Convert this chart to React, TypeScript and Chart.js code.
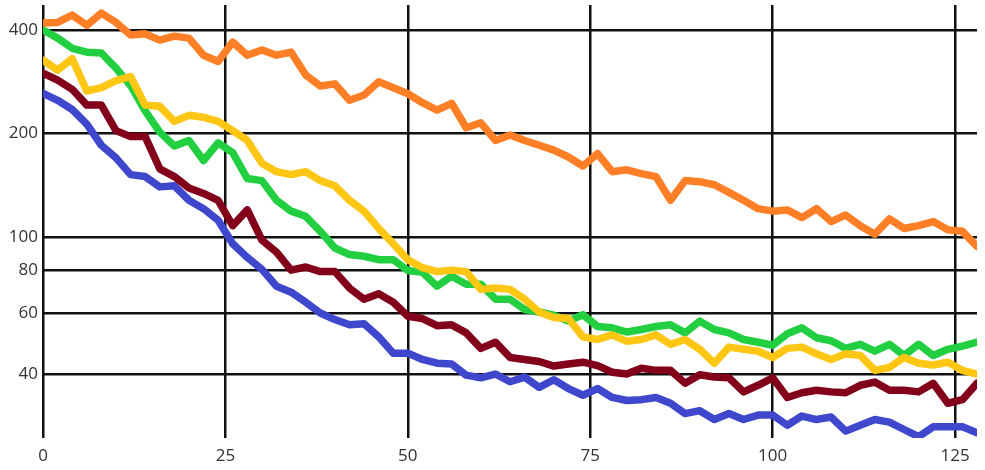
import React, { useEffect, useRef } from "react";
import { Chart, registerables } from "chart.js";

Chart.register(...registerables);

const X = [
  0, 2, 4, 6, 8, 10, 12, 14, 16, 18, 20, 22, 24, 26, 28, 30, 32, 34, 36, 38,
  40, 42, 44, 46, 48, 50, 52, 54, 56, 58, 60, 62, 64, 66, 68, 70, 72, 74, 76, 78,
  80, 82, 84, 86, 88, 90, 92, 94, 96, 98, 100, 102, 104, 106, 108, 110, 112, 114, 116, 118,
  120, 122, 124, 126, 128,
];

const orange = [
  419, 421, 442, 413, 448, 421, 387, 390, 374, 384, 379, 338, 324, 369, 338, 350, 338, 345, 296, 275,
  279, 250, 259, 283, 272, 261, 246, 234, 245, 208, 215, 191, 198, 191, 185, 179, 171, 161, 175, 155,
  157, 153, 150, 128, 146, 145, 142, 135, 128, 121, 119, 120, 114, 121, 111, 116, 108, 102, 113, 106,
  108, 111, 105, 104, 94,
];

const green = [
  400, 379, 354, 345, 343, 310, 276, 233, 202, 184, 191, 167, 188, 176, 148, 146, 128, 119, 115, 104,
  93, 89, 88, 86, 86, 80, 79, 72, 77, 73, 73, 66, 66, 61.6, 60.6, 59.3, 57, 59.5, 55, 54.5,
  53, 53.9, 55, 55.6, 52.7, 57, 53.9, 52.7, 50.4, 49.5, 48.5, 52.4, 54.5, 51, 50, 47.5, 48.8, 46.6, 48.8, 45.3,
  48.8, 45.3, 47.2, 48.2, 49.5,
];

const yellow = [
  327, 306, 330, 266, 272, 285, 293, 242, 240, 217, 226, 223, 217, 204, 191, 164, 155, 152, 155, 146,
  141, 128, 119, 106, 95.7, 86, 81.5, 79.4, 80.2, 79.4, 70.5, 71.1, 70.5, 66, 60.6, 58.4, 58, 51.3, 50.4, 52,
  49.8, 50.4, 52, 48.8, 50.4, 47.2, 43, 47.9, 47.2, 46.6, 44.7, 47.5, 47.9, 45.8, 44.1, 45.8, 45.3, 41, 41.8, 44.7,
  43, 42.5, 43.3, 41, 40,
];

const maroon = [
  300, 286, 269, 242, 242, 204, 196, 196, 158, 150, 139, 134, 128, 108, 120, 98, 90.5, 80.2, 81.9, 79.4,
  79.4, 71.1, 66, 68.5, 64.7, 58.9, 58, 55.3, 55.6, 52.7, 47.5, 49.5, 44.7, 44.1, 43.5, 42.2, 42.8, 43.3, 42.3, 40.5,
  40, 41.6, 41, 41, 37.6, 39.8, 39.2, 39, 35.5, 37.1, 39, 34.2, 35.3, 35.9, 35.5, 35.3, 37.1, 37.9, 35.9, 35.9,
  35.5, 37.6, 32.9, 33.7, 37.6,
];

const blue = [
  262, 250, 235, 213, 185, 170, 152, 150, 140, 141, 128, 121, 112, 95.7, 87.3, 80.6, 72, 69.2, 64.7, 60.2,
  57.6, 55.6, 56, 51.3, 46, 46, 44.1, 43, 42.8, 39.7, 39, 40, 38, 39.2, 36.6, 38.5, 36.3, 34.7, 36.3, 34.2,
  33.5, 33.7, 34.2, 32.9, 30.7, 31.3, 29.5, 30.7, 29.5, 30.4, 30.4, 28.4, 30.2, 29.5, 30, 27.3, 28.4, 29.5, 29, 27.6,
  26.3, 28.1, 28.1, 28.1, 27,
];

const yTicks = [40, 60, 80, 100, 200, 400];
const xTicks = [0, 25, 50, 75, 100, 125];

const toPoints = (vals: number[]) => vals.map((v, i) => ({ x: X[i], y: v }));

export default function App() {
  const ref = useRef<HTMLCanvasElement | null>(null);

  useEffect(() => {
    document.body.style.margin = "0";
    if (!ref.current) return;
    const mk = (label: string, vals: number[], color: string, order: number) => ({
      label,
      data: toPoints(vals),
      borderColor: color,
      backgroundColor: color,
      borderWidth: 7.5,
      pointRadius: 0,
      tension: 0,
      borderCapStyle: "round" as const,
      borderJoinStyle: "round" as const,
      order,
    });
    const chart = new Chart(ref.current, {
      type: "line",
      data: {
        datasets: [
          mk("orange", orange, "#FF7F27", 1),
          mk("yellow", yellow, "#FFC614", 2),
          mk("green", green, "#22CF40", 3),
          mk("maroon", maroon, "#82001A", 4),
          mk("blue", blue, "#3F48CC", 5),
        ],
      },
      options: {
        animation: false,
        responsive: true,
        maintainAspectRatio: false,
        layout: { padding: { top: 5, right: 8, left: 0, bottom: 0 } },
        plugins: { legend: { display: false }, tooltip: { enabled: false } },
        scales: {
          x: {
            type: "linear",
            min: 0,
            max: 128,
            afterBuildTicks: (s: any) => {
              s.ticks = xTicks.map((v) => ({ value: v }));
            },
            afterFit: (s: any) => {
              s.height = 32;
              s.paddingLeft = 0;
              s.paddingRight = 0;
            },
            border: { display: false },
            grid: { color: "#111", lineWidth: 2.5, drawTicks: false },
            ticks: {
              padding: 8,
              color: "#333",
              font: { family: "'Open Sans', sans-serif", size: 17 },
              maxRotation: 0,
              callback: (v: any) => String(v),
            },
          },
          y: {
            type: "logarithmic",
            min: 26.07,
            max: 473,
            afterBuildTicks: (s: any) => {
              s.ticks = yTicks.map((v) => ({ value: v }));
            },
            afterFit: (s: any) => {
              s.width = 43;
              s.paddingTop = 0;
              s.paddingBottom = 0;
            },
            border: { display: false },
            grid: { color: "#111", lineWidth: 2.5, drawTicks: false },
            ticks: {
              padding: 5,
              color: "#333",
              font: { family: "'Open Sans', sans-serif", size: 17 },
              callback: (v: any) => String(v),
            },
          },
        },
      },
    });
    return () => chart.destroy();
  }, []);

  return (
    <div style={{ position: "fixed", left: 0, top: 0, width: 985, height: 470, background: "#fff" }}>
      <canvas ref={ref} />
    </div>
  );
}
